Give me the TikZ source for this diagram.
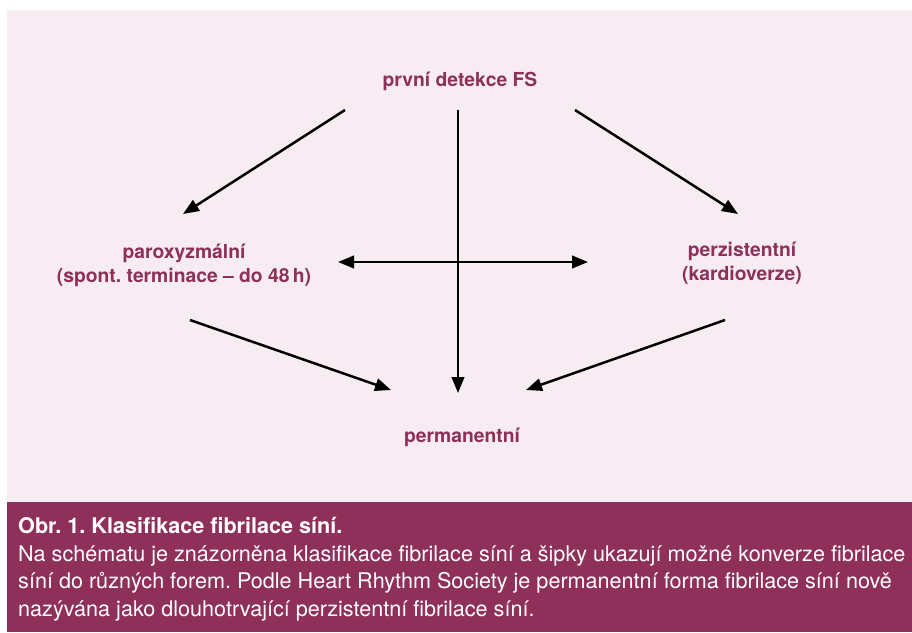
\documentclass[tikz,border=0pt]{standalone}
\usepackage{fontspec}
\setmainfont{TeX Gyre Heros}
\usetikzlibrary{arrows.meta}
\definecolor{panelbg}{HTML}{F7ECF2}
\definecolor{wine}{HTML}{8E3059}
\frenchspacing
\begin{document}
\begin{tikzpicture}[x=1pt,y=-1pt,>={Triangle[length=16pt,width=12.5pt]}]
    % styles
    \tikzset{form/.style={text=wine,align=center,inner sep=0pt,font=\fontsize{19.3}{24}\selectfont\bfseries},
             conv/.style={->,line width=2.5pt,black}}
    \useasboundingbox (0,0) rectangle (912,632);
    % panels
    \fill[panelbg] (7,10) rectangle (912,502);
    \fill[wine] (7,502) rectangle (912,632);

    % nodes (base = last line)
    \node[form,anchor=base] (first) at (460,86) {první detekce FS};
    \node[form,anchor=base] (parox) at (184,282) {paroxyzmální\\(spont. terminace -- do 48\,h)};
    \node[form,anchor=base] (perz)  at (742,280) {perzistentní\\(kardioverze)};
    \node[form,anchor=base] (perm)  at (462,442) {permanentní};

    % arrow ends
    \coordinate (f1) at (345,110);  \coordinate (p1) at (183,214);
    \coordinate (f2) at (575,110);  \coordinate (z1) at (738,214);
    \coordinate (f3) at (458,110);  \coordinate (m3) at (458,393);
    \coordinate (p2) at (338,262);  \coordinate (z2) at (588,262);
    \coordinate (p3) at (190,320);  \coordinate (m1) at (391,390);
    \coordinate (z3) at (725,320);  \coordinate (m2) at (526,390);

    % conversions
    \draw[conv] (f1) -- (p1);
    \draw[conv] (f2) -- (z1);
    \draw[conv] (f3) -- (m3);
    \draw[conv,<->] (p2) -- (z2);
    \draw[conv] (p3) -- (m1);
    \draw[conv] (z3) -- (m2);

    % caption
    \node[anchor=base west,align=left,inner sep=0pt,text=white,font=\fontsize{21.6}{27.4}\selectfont] (cap) at (18,616)
        {\textbf{Obr. 1. Klasifikace fibrilace síní.}\\
         Na schématu je znázorněna klasifikace fibrilace síní a šipky ukazují možné konverze fibrilace\\
         síní do různých forem. Podle Heart Rhythm Society je permanentní forma fibrilace síní nově\\
         nazývána jako dlouhotrvající perzistentní fibrilace síní.};
\end{tikzpicture}
\end{document}
